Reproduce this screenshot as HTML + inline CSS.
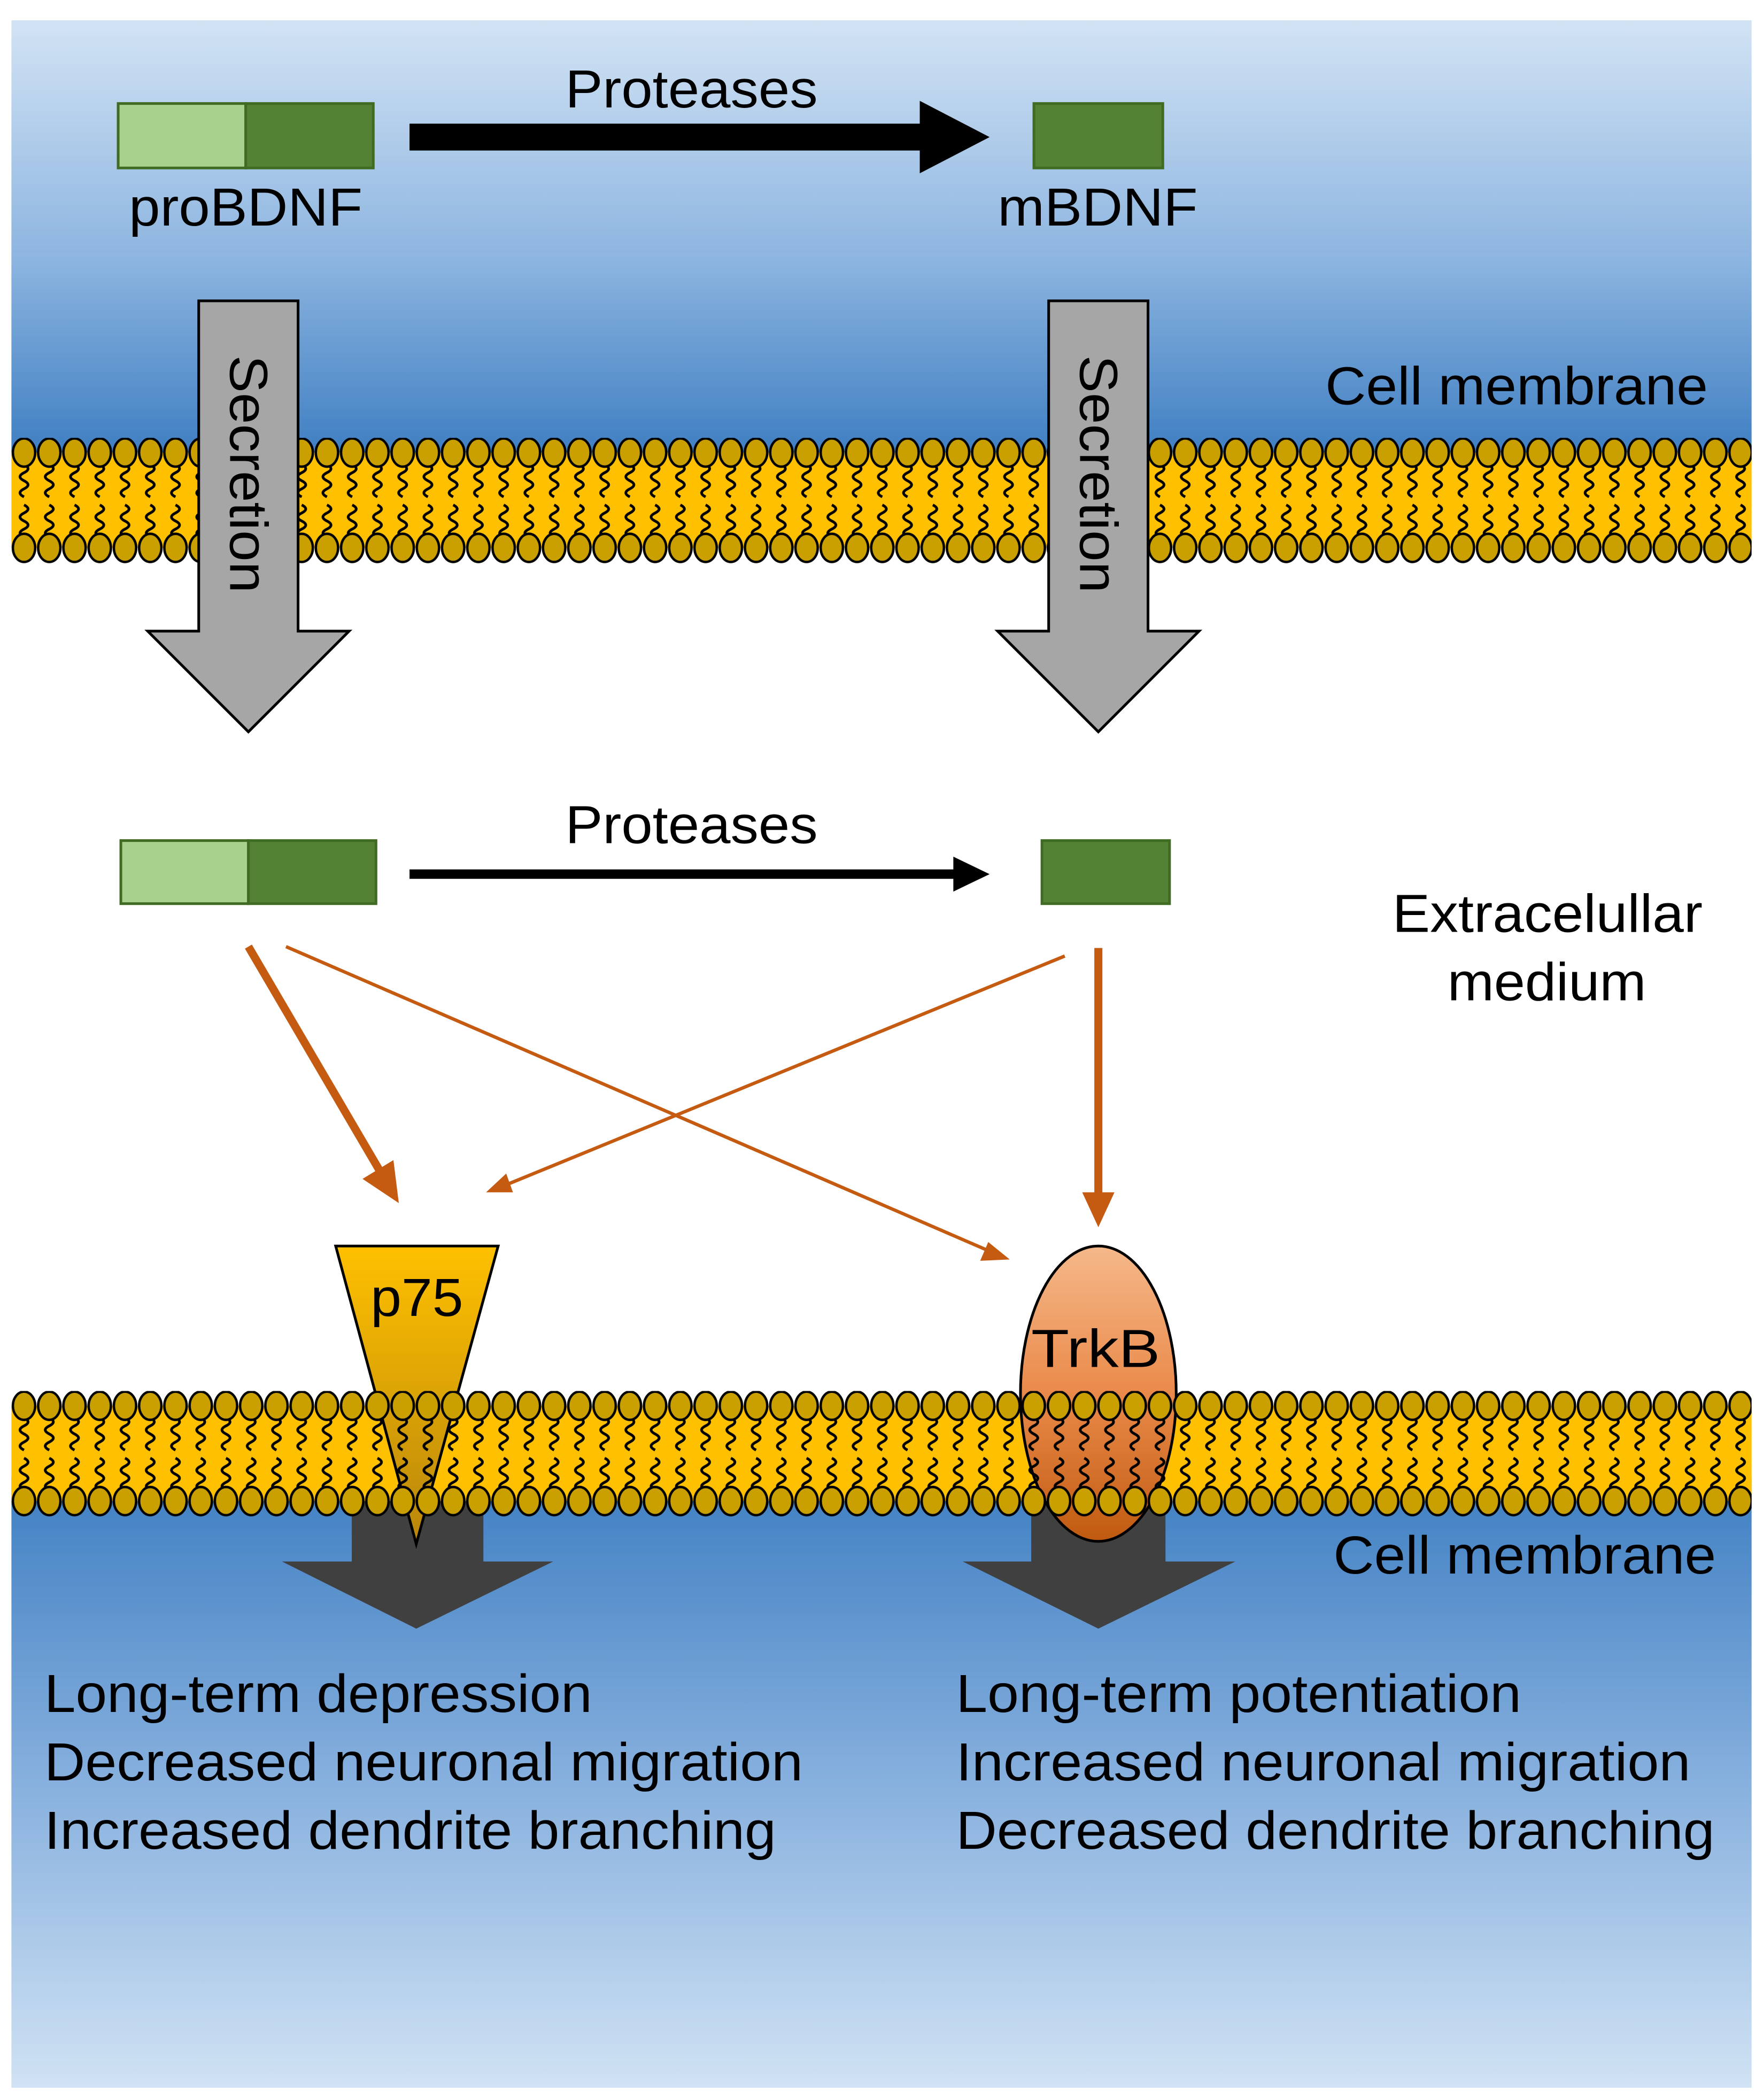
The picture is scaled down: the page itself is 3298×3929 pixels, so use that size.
<!DOCTYPE html>
<html><head><meta charset="utf-8"><style>
html,body{margin:0;padding:0;background:#fff}
svg{display:block}
text{font-family:"Liberation Sans",Arial,sans-serif;fill:#000}
</style></head><body>
<svg width="3298" height="3929" viewBox="0 0 1313 1564" xmlns="http://www.w3.org/2000/svg">
<defs>
<linearGradient id="bgTop" x1="0" y1="0" x2="0" y2="1">
<stop offset="0" stop-color="#d2e3f4"/><stop offset="0.55" stop-color="#8db5e0"/><stop offset="1" stop-color="#3f7fc2"/>
</linearGradient>
<linearGradient id="bgBot" x1="0" y1="0" x2="0" y2="1">
<stop offset="0" stop-color="#3f7fc2"/><stop offset="0.5" stop-color="#87b0de"/><stop offset="1" stop-color="#d0e2f3"/>
</linearGradient>
<linearGradient id="p75g" x1="0" y1="0" x2="0" y2="1">
<stop offset="0" stop-color="#ffc000"/><stop offset="1" stop-color="#b8860b"/>
</linearGradient>
<linearGradient id="trkg" x1="0" y1="0" x2="0" y2="1">
<stop offset="0" stop-color="#f5b88a"/><stop offset="0.5" stop-color="#ea8a4a"/><stop offset="1" stop-color="#c05a10"/>
</linearGradient>
<pattern id="lip" patternUnits="userSpaceOnUse" width="18.8" height="100" x="8.5" y="0">
<path d="M9.4,20 q6,3 0,6 q-6,3 0,6 q6,3 0,6 q-6,3 0,6 M9.4,50 q6,3 0,6 q-6,3 0,6 q6,3 0,6 q-6,3 0,6" fill="none" stroke="#000" stroke-width="2"/>
<ellipse cx="9.4" cy="11" rx="8.3" ry="10.5" fill="#c9a000" stroke="#000" stroke-width="1.8"/>
<ellipse cx="9.4" cy="82" rx="8.3" ry="10.5" fill="#c9a000" stroke="#000" stroke-width="1.8"/>
</pattern>
<pattern id="lip1" href="#lip" y="326"/>
<pattern id="lip2" href="#lip" y="1036"/>
</defs>

<rect x="8.5" y="15" width="1296" height="322" fill="url(#bgTop)"/>
<rect x="8.5" y="1100" width="1296" height="455" fill="url(#bgBot)"/>

<rect x="8.5" y="337" width="1296" height="71" fill="#ffc000"/>
<rect x="8.5" y="326" width="1296" height="94" fill="url(#lip1)"/>

<g font-size="40">
<rect x="88" y="77" width="95" height="48" fill="#a9d18e" stroke="#3f6b22" stroke-width="2"/>
<rect x="183" y="77" width="95" height="48" fill="#548235" stroke="#3f6b22" stroke-width="2"/>
<text x="96" y="168" textLength="174" lengthAdjust="spacingAndGlyphs">proBDNF</text>
<rect x="770" y="77" width="96" height="48" fill="#548235" stroke="#3f6b22" stroke-width="2"/>
<text x="743" y="168" textLength="149" lengthAdjust="spacingAndGlyphs">mBDNF</text>
<path d="M305,92 L685,92 L685,75 L737,102 L685,129 L685,112 L305,112 Z" fill="#000"/>
<text x="421" y="80" textLength="188" lengthAdjust="spacingAndGlyphs">Proteases</text>

<path d="M148,224 L222,224 L222,470 L260,470 L185,545 L110,470 L148,470 Z" fill="#a6a6a6" stroke="#000" stroke-width="2"/>
<text transform="translate(185,353) rotate(90)" text-anchor="middle" dominant-baseline="central" textLength="177" lengthAdjust="spacingAndGlyphs">Secretion</text>
<path d="M781,224 L855,224 L855,470 L893,470 L818,545 L743,470 L781,470 Z" fill="#a6a6a6" stroke="#000" stroke-width="2"/>
<text transform="translate(818,353) rotate(90)" text-anchor="middle" dominant-baseline="central" textLength="177" lengthAdjust="spacingAndGlyphs">Secretion</text>
<text x="987" y="301" textLength="285" lengthAdjust="spacingAndGlyphs">Cell membrane</text>

<rect x="90" y="626" width="95" height="47" fill="#a9d18e" stroke="#3f6b22" stroke-width="2"/>
<rect x="185" y="626" width="95" height="47" fill="#548235" stroke="#3f6b22" stroke-width="2"/>
<rect x="776" y="626" width="95" height="47" fill="#548235" stroke="#3f6b22" stroke-width="2"/>
<path d="M305,647.5 L710,647.5 L710,638 L737,651 L710,664 L710,654.5 L305,654.5 Z" fill="#000"/>
<text x="421" y="628" textLength="188" lengthAdjust="spacingAndGlyphs">Proteases</text>
<text x="1037" y="694" textLength="231" lengthAdjust="spacingAndGlyphs">Extracelullar</text>
<text x="1078" y="745" textLength="148" lengthAdjust="spacingAndGlyphs">medium</text>
</g>

<g stroke="#c55a11" fill="none">
<line x1="185" y1="705" x2="284" y2="874" stroke-width="6"/>
<line x1="213" y1="705" x2="735" y2="931" stroke-width="2.5"/>
<line x1="793" y1="712" x2="378" y2="882" stroke-width="2.5"/>
<line x1="818" y1="706" x2="818" y2="890" stroke-width="6"/>
</g>
<g fill="#c55a11">
<path d="M297,896 L270,878 L293,864 Z"/>
<path d="M752,938 L730,939 L736,925 Z"/>
<path d="M362,888 L377,874 L382,888 Z"/>
<path d="M818,914 L806,888 L830,888 Z"/>
</g>

<path d="M262,1110 L360,1110 L360,1163 L412,1163 L310,1213 L210,1163 L262,1163 Z" fill="#404040"/>
<path d="M768,1110 L868,1110 L868,1163 L920,1163 L818,1213 L717,1163 L768,1163 Z" fill="#404040"/>

<rect x="8.5" y="1047" width="1296" height="71" fill="#ffc000"/>
<path d="M250,928 L371,928 L310,1150 Z" fill="url(#p75g)" stroke="#000" stroke-width="2"/>
<ellipse cx="818" cy="1038" rx="58" ry="110" fill="url(#trkg)" stroke="#000" stroke-width="2"/>
<rect x="8.5" y="1036" width="1296" height="94" fill="url(#lip2)"/>
<g font-size="40">
<text x="276" y="980" textLength="69" lengthAdjust="spacingAndGlyphs">p75</text>
<text x="768" y="1018" textLength="96" lengthAdjust="spacingAndGlyphs">TrkB</text>
<text x="993" y="1172" textLength="285" lengthAdjust="spacingAndGlyphs">Cell membrane</text>

<text x="33" y="1275" textLength="408" lengthAdjust="spacingAndGlyphs">Long-term depression</text>
<text x="33" y="1326" textLength="565" lengthAdjust="spacingAndGlyphs">Decreased neuronal migration</text>
<text x="33" y="1377" textLength="545" lengthAdjust="spacingAndGlyphs">Increased dendrite branching</text>
<text x="712" y="1275" textLength="421" lengthAdjust="spacingAndGlyphs">Long-term potentiation</text>
<text x="712" y="1326" textLength="547" lengthAdjust="spacingAndGlyphs">Increased neuronal migration</text>
<text x="712" y="1377" textLength="565" lengthAdjust="spacingAndGlyphs">Decreased dendrite branching</text>
</g>
</svg>
</body></html>
